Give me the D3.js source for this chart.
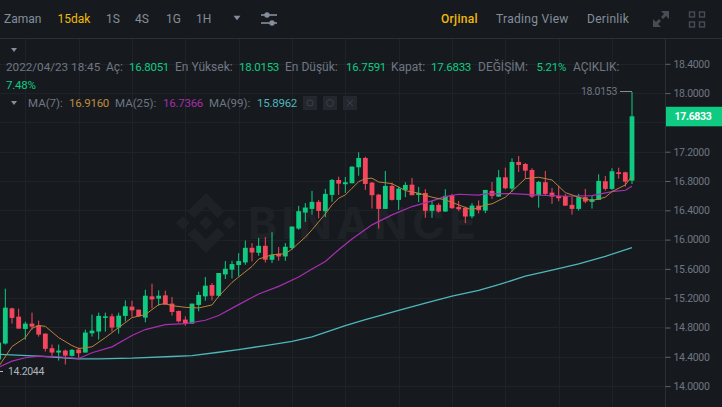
<!DOCTYPE html>
<html>
<head>
<meta charset="utf-8">
<script src="https://d3js.org/d3.v7.min.js"></script>
<style>
  html, body { margin: 0; padding: 0; background: #161a1e; overflow: hidden; }
  svg { display: block; }
  text { font-family: Roboto, "Noto Sans", sans-serif; }
</style>
</head>
<body>
<svg id="chart" width="722" height="407"></svg>
<script>
// candles, first entry is the one cut off at the left edge
const candleIndex = d3.range(-1, 95);
const opens = [14.363,14.581,15.061,14.948,14.781,14.853,14.830,14.717,14.517,14.458,14.485,14.413,14.499,14.458,14.721,14.744,14.931,14.953,14.799,14.958,15.085,15.044,14.935,15.225,15.194,15.239,15.126,15.026,14.908,14.853,15.108,15.225,15.380,15.234,15.525,15.589,15.653,15.688,15.888,15.820,15.915,15.725,15.807,15.770,15.884,16.151,16.369,16.419,16.515,16.388,16.610,16.814,16.756,16.769,16.987,17.114,16.778,16.614,16.419,16.733,16.542,16.678,16.750,16.610,16.637,16.392,16.474,16.383,16.606,16.447,16.433,16.317,16.464,16.396,16.665,16.587,16.851,16.696,17.060,17.032,16.951,16.610,16.783,16.641,16.596,16.596,16.474,16.419,16.579,16.515,16.542,16.797,16.692,16.919,16.919,16.8051];
const highs = [14.600,15.330,15.071,15.057,14.880,15.003,14.894,14.717,14.567,14.567,14.499,14.506,14.526,14.771,14.976,15.003,15.003,14.989,15.003,15.170,15.166,15.044,15.316,15.398,15.307,15.303,15.217,15.030,14.953,15.126,15.289,15.489,15.407,15.544,15.707,15.711,15.816,15.988,15.952,16.024,16.034,16.102,15.898,15.952,16.178,16.460,16.499,16.665,16.542,16.692,16.828,16.859,16.855,17.000,17.192,17.132,16.787,16.624,16.937,16.778,16.723,16.783,16.842,16.719,16.688,16.528,16.497,16.688,16.624,16.528,16.451,16.497,16.535,16.678,16.787,16.951,16.982,17.110,17.141,17.046,16.974,16.801,16.937,16.705,16.733,16.620,16.587,16.624,16.692,16.596,16.892,16.869,16.974,16.982,16.927,18.0153];
const lows = [14.2044,14.567,14.853,14.785,14.635,14.771,14.676,14.472,14.404,14.349,14.295,14.404,14.376,14.458,14.676,14.635,14.744,14.744,14.717,14.884,14.948,14.948,14.871,15.061,15.098,15.112,14.962,14.867,14.826,14.853,15.021,15.166,15.170,15.217,15.462,15.470,15.497,15.657,15.702,15.779,15.688,15.680,15.711,15.711,15.861,16.133,16.242,16.342,16.290,16.306,16.515,16.610,16.637,16.769,16.873,16.678,16.424,16.151,16.419,16.533,16.406,16.579,16.606,16.511,16.297,16.297,16.369,16.379,16.419,16.392,16.225,16.290,16.358,16.361,16.556,16.583,16.688,16.651,16.923,16.832,16.569,16.437,16.596,16.488,16.524,16.460,16.342,16.396,16.497,16.424,16.542,16.668,16.678,16.832,16.723,16.7591];
const closes = [14.594,15.071,14.931,14.785,14.853,14.812,14.703,14.509,14.458,14.485,14.417,14.495,14.449,14.731,14.758,14.958,14.953,14.799,14.962,15.089,15.034,14.953,15.234,15.184,15.234,15.112,15.012,14.884,14.853,15.126,15.244,15.371,15.234,15.544,15.602,15.666,15.707,15.888,15.824,15.915,15.725,15.793,15.770,15.902,16.178,16.388,16.437,16.515,16.392,16.624,16.814,16.764,16.783,16.996,17.114,16.760,16.606,16.419,16.733,16.542,16.696,16.746,16.606,16.637,16.392,16.474,16.383,16.597,16.429,16.415,16.315,16.464,16.402,16.678,16.597,16.851,16.701,17.060,17.019,16.941,16.587,16.787,16.624,16.587,16.565,16.464,16.419,16.579,16.519,16.552,16.801,16.692,16.933,16.896,16.791,17.6833];

// moving averages at these candles
const ma7Index = [-1,1,3,4,5,6,8,10,11,13,15,17,19,21,23,24,25,27,29,31,32,34,35,37,38,40,42,43,45,46,48,49,50,51,52,53,54,55,56,58,60,62,64,66,68,70,72,73,75,77,78,80,82,84,86,88,90,91,93,94];
const ma7Values = [14.267,14.540,14.662,14.789,14.826,14.816,14.662,14.553,14.513,14.536,14.662,14.799,14.935,14.976,15.112,15.126,15.098,15.075,15.067,15.108,15.225,15.416,15.489,15.634,15.734,15.793,15.807,15.871,16.034,16.133,16.351,16.474,16.565,16.610,16.701,16.791,16.832,16.838,16.787,16.764,16.669,16.633,16.579,16.542,16.474,16.406,16.474,16.488,16.579,16.746,16.832,16.851,16.814,16.641,16.579,16.532,16.579,16.655,16.746,16.869];
const ma25Index = [-1,1,3,5,8,11,13,16,19,21,24,27,30,32,35,38,41,44,46,48,50,52,55,58,61,64,66,68,71,72,76,80,84,88,91,93,94];
const ma25Values = [14.258,14.341,14.387,14.409,14.401,14.377,14.455,14.536,14.690,14.772,14.840,14.853,14.899,14.963,15.112,15.258,15.362,15.489,15.598,15.702,15.861,16.007,16.201,16.338,16.451,16.528,16.587,16.619,16.606,16.623,16.627,16.606,16.592,16.600,16.655,16.674,16.729];
const ma99Index = [-1,5,11,14,19,25,28,32,35,39,43,46,48,51,54,57,59,63,67,71,74,78,82,86,90,94];
const ma99Values = [14.435,14.408,14.372,14.372,14.381,14.404,14.417,14.462,14.499,14.553,14.612,14.672,14.735,14.826,14.908,14.982,15.034,15.132,15.228,15.307,15.384,15.500,15.582,15.670,15.772,15.892];

const priceTicks = [18.4,18.0,17.2,16.8,16.4,16.0,15.6,15.2,14.8,14.4,14.0];
const priceGrid = [18.4,18.0,17.6,17.2,16.8,16.4,16.0,15.6,15.2,14.8,14.4,14.0];
const timeGrid = d3.range(3, 95, 8);

const lastClose = 17.6833;
const highMark = 18.0153;
const lowMark = 14.2044;

const intervals = ['Zaman','15dak','1S','4S','1G','1H'];
const intervalX = [4,57.5,106,135,166,196];
const views = ['Orjinal','Trading View','Derinlik'];
const viewX = [441,496,587];

const legendLabels = ['Aç:','En Yüksek:','En Düşük:','Kapat:','DEĞİŞİM:','AÇIKLIK:'];
const legendLabelX = [106,175,285,391,478,573];
const legendValues = ['16.8051','18.0153','16.7591','17.6833','5.21%'];
const legendValueX = [129,239,346,431,536.5];
const maLabels = ['MA(7):','MA(25):','MA(99):'];
const maLabelX = [28,115,209];
const maReadings = ['16.9160','16.7366','15.8962'];
const maReadingX = [69,163,257];
const maColors = ['#b9823a','#a82fb0','#4fb6ba'];
const maLegendColors = ['#c08a3e','#a32ea8','#4fb6ba'];

const up = '#0ecb81', down = '#f6465d', muted = '#6f7682', gold = '#f0b90b';

const svg = d3.select('#chart');
const x = d3.scaleLinear().domain([0, 94]).range([5.33, 632]);
const y = d3.scaleLinear().domain([14, 18]).range([386.1, 93.1]);

// grid
const plotTop = 38.5, axisX = 665.5;
svg.append('g').selectAll('line').data(priceGrid).join('line')
  .attr('x1', 0).attr('x2', axisX)
  .attr('y1', d => Math.round(y(d)) + 0.5).attr('y2', d => Math.round(y(d)) + 0.5)
  .attr('stroke', '#1f2328');
svg.append('g').selectAll('line').data(timeGrid).join('line')
  .attr('x1', d => Math.round(x(d)) + 0.5).attr('x2', d => Math.round(x(d)) + 0.5)
  .attr('y1', plotTop).attr('y2', 407)
  .attr('stroke', '#1f2328');

// watermark
const mark = svg.append('g').attr('fill', '#1e2227');
mark.append('path')
  .attr('transform', 'translate(176,193) scale(0.474)')
  .attr('d', 'M38.73 53.2l24.59-24.58 24.6 24.6 14.3-14.31L63.32 0 24.43 38.9z M0 63.31l14.3-14.31 14.31 14.31-14.31 14.3z M38.73 73.41l24.59 24.59 24.6-24.6 14.31 14.29-38.9 38.91-38.91-38.88z M98 63.31l14.3-14.31 14.31 14.31-14.31 14.3z M77.83 63.3L63.32 48.78 52.59 59.51l-1.24 1.23-2.54 2.54 14.51 14.5 14.51-14.52z');
mark.append('text').attr('x', 248).attr('y', 239)
  .attr('font-size', 44).attr('font-weight', 700).attr('letter-spacing', 4.5)
  .style('font-family', 'Inter, Roboto, sans-serif')
  .text('BINANCE');

// header frame
svg.append('line').attr('x1', 0).attr('x2', 722).attr('y1', plotTop).attr('y2', plotTop).attr('stroke', '#2b2f36');
svg.append('line').attr('x1', axisX).attr('x2', axisX).attr('y1', plotTop).attr('y2', 407).attr('stroke', '#2b2f36');

const line = d3.line().x(d => x(d[0])).y(d => y(d[1]));
const drawMa = (idx, vals, color, width) => svg.append('path')
  .datum(idx.map((d, i) => [d, vals[i]]))
  .attr('d', line).attr('fill', 'none').attr('stroke', color).attr('stroke-width', width);

// candles
const bars = candleIndex.map((d, i) => ({ i: d, o: opens[i], h: highs[i], l: lows[i], c: closes[i] }));
const candle = svg.append('g').selectAll('g').data(bars).join('g')
  .attr('fill', d => d.c >= d.o ? up : down)
  .attr('stroke', 'none');
candle.append('rect')
  .attr('x', d => x(d.i) - 0.5).attr('width', 1)
  .attr('y', d => y(d.h)).attr('height', d => y(d.l) - y(d.h));
candle.append('rect')
  .attr('x', d => x(d.i) - 2.4).attr('width', 4.8)
  .attr('y', d => y(Math.max(d.o, d.c)))
  .attr('height', d => Math.max(1, Math.abs(y(d.o) - y(d.c))));

drawMa(ma99Index, ma99Values, maColors[2], 1.3);
drawMa(ma25Index, ma25Values, maColors[1], 1.2);
drawMa(ma7Index, ma7Values, maColors[0], 1);

// price axis
const axis = d3.axisRight(y).tickValues(priceTicks).tickFormat(d => d.toFixed(4)).tickSize(5).tickPadding(3);
const axisG = svg.append('g').attr('transform', `translate(${axisX},0)`).call(axis);
axisG.select('.domain').remove();
axisG.selectAll('line').attr('stroke', '#5e6673');
axisG.selectAll('text').attr('fill', muted).attr('font-size', 10.5).attr('letter-spacing', -0.3)
  .style('font-family', 'Roboto, sans-serif');

// last price tag
svg.append('rect').attr('x', 666).attr('y', y(lastClose) - 9.5).attr('width', 56).attr('height', 19.5).attr('fill', up);
svg.append('text').attr('x', 693).attr('y', y(lastClose) + 4).attr('text-anchor', 'middle')
  .attr('fill', '#fff').attr('font-size', 10.5).attr('font-weight', 700).attr('letter-spacing', -0.3)
  .text(lastClose.toFixed(4));

// high and low callouts
const hy = Math.round(y(highMark)) - 0.5;
svg.append('line').attr('x1', 620).attr('x2', x(94)).attr('y1', hy).attr('y2', hy).attr('stroke', '#848e9c');
svg.append('text').attr('x', 617).attr('y', hy + 3.5).attr('text-anchor', 'end')
  .attr('fill', muted).attr('font-size', 10.5).attr('letter-spacing', -0.3).text(highMark.toFixed(4));
const ly = Math.round(y(lowMark)) + 0.5;
svg.append('line').attr('x1', 0).attr('x2', 3).attr('y1', ly).attr('y2', ly).attr('stroke', '#b7bdc6');
svg.append('text').attr('x', 8).attr('y', ly + 3.5)
  .attr('fill', '#aeb4bc').attr('font-size', 10.5).attr('letter-spacing', -0.3).text(lowMark.toFixed(4));

// toolbar
const label = (txt, px, py, color, size = 12, weight = 400, spacing = 0) => svg.append('text')
  .attr('x', px).attr('y', py).attr('fill', color).attr('font-size', size).attr('font-weight', weight)
  .attr('letter-spacing', spacing).text(txt);
intervals.forEach((t, i) => label(t, intervalX[i], 23, t === '15dak' ? gold : '#848e9c'));
views.forEach((t, i) => label(t, viewX[i], 23, i === 0 ? gold : '#848e9c', 12, i === 0 ? 500 : 400, 0.3));

const tri = (cx, cy, w, h, color) => svg.append('path')
  .attr('d', `M${cx - w / 2},${cy - h / 2}h${w}l${-w / 2},${h}z`).attr('fill', color);
tri(237, 18, 7, 4.5, '#848e9c');
tri(14, 50, 6, 4, '#848e9c');
tri(14, 103, 6, 4, '#848e9c');

// settings sliders
const icon = svg.append('g').attr('fill', '#848e9c');
[15, 23].forEach((py, i) => {
  icon.append('rect').attr('x', 261).attr('y', py - 0.8).attr('width', 16).attr('height', 1.6);
  icon.append('circle').attr('cx', i === 0 ? 267 : 272).attr('cy', py).attr('r', 2.7);
});

// expand and layout icons
const dim = svg.append('g').attr('fill', '#474d57');
dim.append('path').attr('d', 'M661,11h8v8l-3,-3l-3,3l-2,-2l3,-3z M653,19l3,3l3,-3l2,2l-3,3l3,3h-8z');
[689.5, 699.5].forEach(px => [12, 22].forEach(py => {
  dim.append('rect').attr('x', px).attr('y', py).attr('width', 5).attr('height', 5)
    .attr('fill', 'none').attr('stroke', '#474d57').attr('stroke-width', 1.4);
}));

// legend rows
label('2022/04/23 18:45', 6, 71, muted, 11.7);
legendLabels.forEach((t, i) => label(t, legendLabelX[i], 71, muted));
legendValues.forEach((t, i) => label(t, legendValueX[i], 71, up, 11.5, 400, -0.25));
label('7.48%', 6, 89, up, 11.5, 400, -0.25);
maLabels.forEach((t, i) => label(t, maLabelX[i], 107, muted, 11.5));
maReadings.forEach((t, i) => label(t, maReadingX[i], 107, maLegendColors[i], 11.5, 400, -0.25));
[303, 323, 343].forEach(px => svg.append('rect')
  .attr('x', px).attr('y', 96).attr('width', 14).attr('height', 14).attr('fill', '#24282e'));
svg.append('circle').attr('cx', 310).attr('cy', 103).attr('r', 3).attr('fill', 'none').attr('stroke', '#3a3f47');
svg.append('circle').attr('cx', 330).attr('cy', 103).attr('r', 3.5).attr('fill', 'none').attr('stroke', '#3a3f47');
svg.append('path').attr('d', 'M347,100l6,6m0,-6l-6,6').attr('stroke', '#3a3f47').attr('fill', 'none');
</script>
</body>
</html>
